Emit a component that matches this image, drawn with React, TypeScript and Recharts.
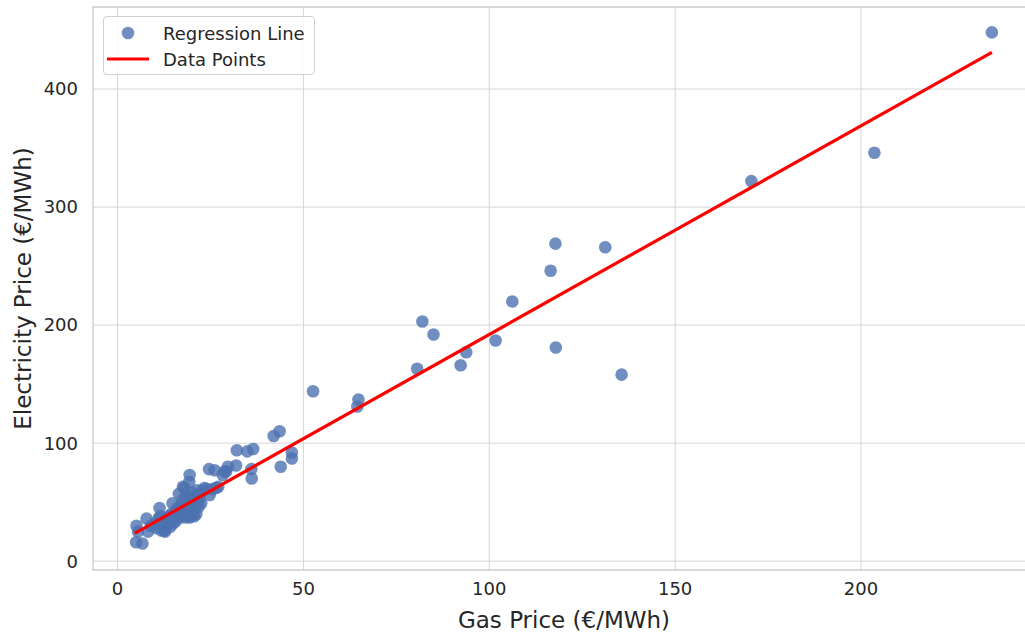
import React from "react";
import {
  ScatterChart,
  Scatter,
  XAxis,
  YAxis,
  CartesianGrid,
  Legend,
  ReferenceArea,
} from "recharts";

// monthly averages
const gasPrice = [
  5.0, 6.7, 5.1, 5.5, 7.8, 8.2, 9.0, 10.0, 10.5, 11.0, 11.3, 11.5, 11.8, 12.2,
  12.6, 12.8, 13.0, 13.3, 13.5, 13.8, 14.0, 14.2, 14.5, 14.8, 15.0, 15.2, 15.5,
  15.7, 16.0, 16.2, 16.5, 16.7, 16.8, 17.0, 17.2, 17.5, 17.6, 17.8, 18.0, 18.1,
  18.3, 18.5, 18.6, 18.8, 19.0, 19.1, 19.3, 19.4, 19.4, 19.5, 19.6, 19.8, 20.0,
  20.1, 20.3, 20.5, 20.6, 20.8, 21.0, 21.2, 21.4, 21.5, 21.8, 22.0, 22.3, 22.5,
  23.0, 23.4, 24.0, 24.6, 24.8, 25.6, 26.1, 26.5, 27.1, 28.3, 28.8, 29.2, 29.7,
  31.9, 32.1, 34.9, 36.0, 36.1, 36.5, 42.0, 43.6, 43.9, 46.9, 46.9, 52.6, 64.5,
  64.8, 80.6, 82.0, 85.0, 92.3, 93.8, 101.7, 106.2, 116.5, 117.8, 117.9, 131.2,
  135.6, 170.5, 203.6, 235.2,
];
const electricityPrice = [
  16, 15, 30, 25, 36, 25, 30, 32, 28, 36, 45, 38, 26, 30, 26, 25, 28, 36, 31,
  38, 33, 29, 40, 49, 32, 37, 42, 34, 38, 45, 57, 37, 41, 47, 39, 52, 63, 43,
  62, 37, 48, 55, 40, 45, 50, 38, 67, 73, 37, 42, 54, 47, 40, 58, 44, 51, 38,
  48, 55, 40, 60, 50, 46, 52, 57, 49, 60, 62, 61, 78, 56, 61, 77, 62, 63, 73,
  76, 76, 80, 81, 94, 93, 78, 70, 95, 106, 110, 80, 92, 87, 144, 131, 137, 163,
  203, 192, 166, 177, 187, 220, 246, 269, 181, 266, 158, 322, 346, 448,
];
// end points of the fitted line
const fitGas = [4.6, 235.2];
const fitElectricity = [23.5, 431];

const xTicks = [0, 50, 100, 150, 200];
const yTicks = [0, 100, 200, 300, 400];
const xDomain = [-6.6, 246.8];
const yDomain = [-7.5, 469.5];

const pointsLabel = "Regression Line";
const lineLabel = "Data Points";

const points = gasPrice.map((g, i) => ({ gas: g, elec: electricityPrice[i] }));
const fit = fitGas.map((g, i) => ({ gas: g, elec: fitElectricity[i] }));

const FONT = "'DejaVu Sans', sans-serif";
const TEXT = "#262626";
const GRID = "#d6d6d6";

const Dot = (props: any) => (
  <circle cx={props.cx} cy={props.cy} r={6.3} fill="#4C72B0" fillOpacity={0.8} />
);

const LegendBox = ({ payload }: any) => {
  // scatter entry first, like the original
  const items = [...(payload || [])].sort(
    (a: any, b: any) => (a.type === "line" ? 1 : 0) - (b.type === "line" ? 1 : 0)
  );
  return (
    <div
      style={{
        width: 212,
        height: 59,
        border: "1px solid #d0d0d0",
        borderRadius: 4,
        background: "rgba(255,255,255,0.85)",
        fontFamily: FONT,
        fontSize: 18,
        color: TEXT,
        boxSizing: "border-box",
        paddingTop: 3,
      }}
    >
      {items.map((entry: any) => (
        <div
          key={entry.value}
          style={{ display: "flex", alignItems: "center", height: 26 }}
        >
          <svg width={59} height={26}>
            {entry.type === "line" ? (
              <line x1={3} x2={45} y1={13} y2={13} stroke="red" strokeWidth={3.2} />
            ) : (
              <circle cx={24} cy={13} r={6.3} fill="#4C72B0" fillOpacity={0.8} />
            )}
          </svg>
          <span>{entry.value}</span>
        </div>
      ))}
    </div>
  );
};

export default function App() {
  return (
    <div
      style={{
        position: "absolute",
        left: 0,
        top: 0,
        width: 1025,
        height: 632,
        overflow: "hidden",
        background: "#fff",
      }}
    >
      <ScatterChart
        width={1040}
        height={632}
        margin={{ top: 7, right: 5, left: 0, bottom: 0 }}
      >
        <CartesianGrid
          stroke={GRID}
          strokeWidth={1}
          horizontalValues={yTicks}
          verticalValues={xTicks}
        />
        <ReferenceArea
          x1={xDomain[0]}
          x2={xDomain[1]}
          y1={yDomain[0]}
          y2={yDomain[1]}
          fill="none"
          stroke="#cccccc"
          strokeWidth={1.3}
          ifOverflow="visible"
        />
        <XAxis
          type="number"
          dataKey="gas"
          domain={xDomain}
          ticks={xTicks}
          allowDataOverflow
          height={62}
          axisLine={false}
          tickLine={false}
          tickSize={0}
          tickMargin={12}
          tick={{ fill: TEXT, fontSize: 18, fontFamily: FONT }}
          label={{
            value: "Gas Price (€/MWh)",
            position: "insideBottom",
            offset: 4,
            style: { fill: TEXT, fontSize: 23, fontFamily: FONT },
          }}
        />
        <YAxis
          type="number"
          dataKey="elec"
          domain={yDomain}
          ticks={yTicks}
          allowDataOverflow
          width={93}
          axisLine={false}
          tickLine={false}
          tickSize={0}
          tickMargin={15}
          tick={{ fill: TEXT, fontSize: 18, fontFamily: FONT }}
          label={{
            value: "Electricity Price (€/MWh)",
            angle: -90,
            position: "center",
            dx: -24,
            style: { fill: TEXT, fontSize: 23, fontFamily: FONT, textAnchor: "middle" },
          }}
        />
        <Legend
          layout="vertical"
          align="center"
          verticalAlign="middle"
          content={<LegendBox />}
          wrapperStyle={{ left: 103, top: 16, width: 212, height: 59 }}
        />
        <Scatter
          name={pointsLabel}
          data={points}
          shape={<Dot />}
          legendType="circle"
          isAnimationActive={false}
        />
        <Scatter
          name={lineLabel}
          data={fit}
          line={{ stroke: "red", strokeWidth: 3.2 }}
          shape={() => <g />}
          legendType="line"
          isAnimationActive={false}
        />
      </ScatterChart>
    </div>
  );
}
